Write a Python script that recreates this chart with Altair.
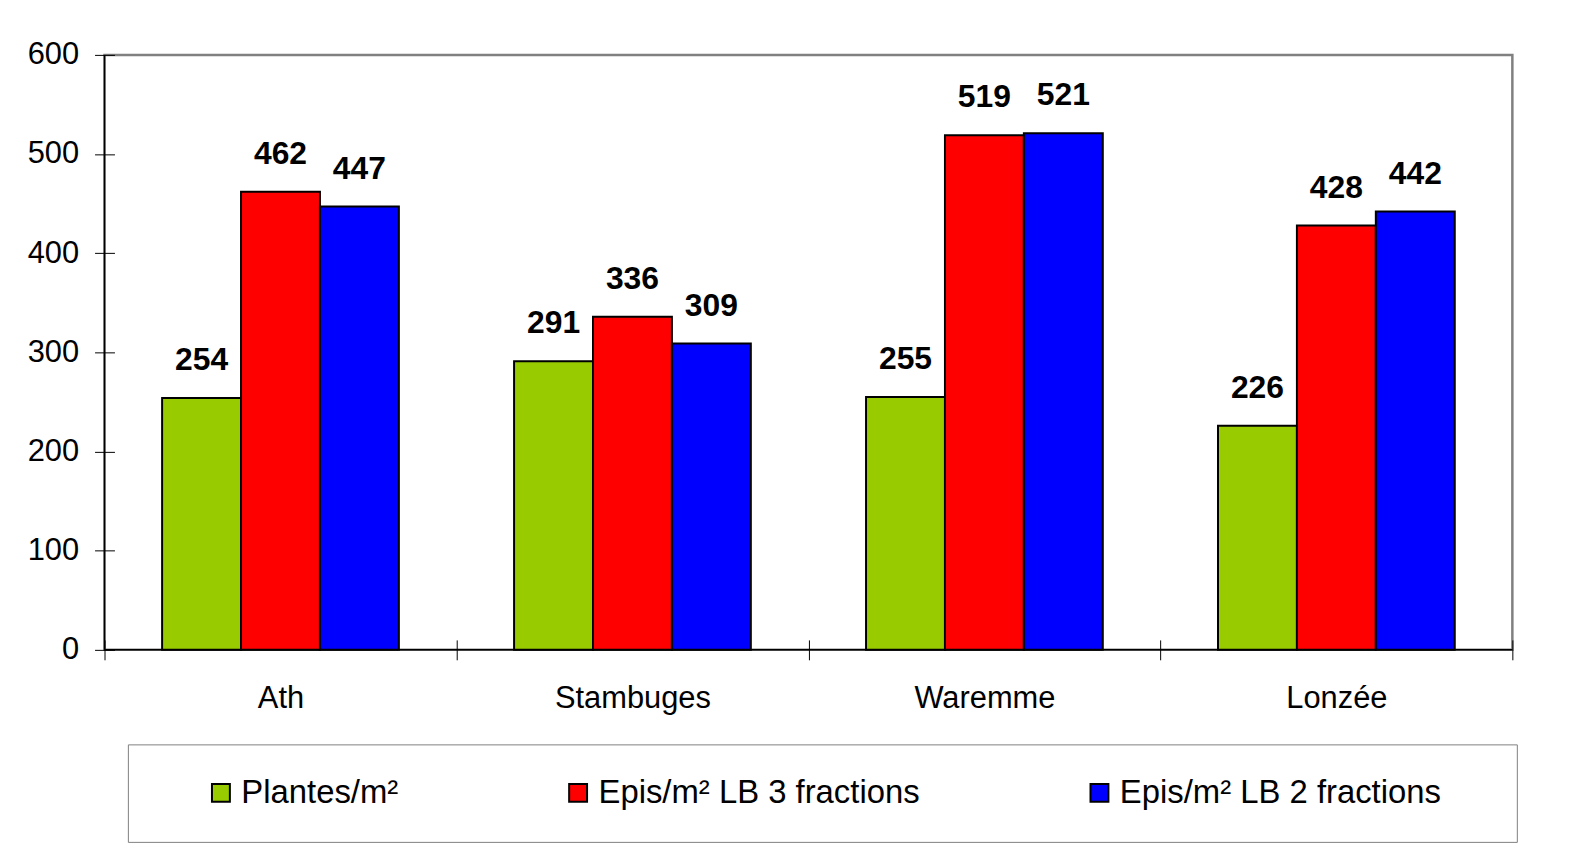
import altair as alt
import pandas as pd

# ---- data ----
sites = ["Ath", "Stambuges", "Waremme", "Lonzée"]
series_names = ["Plantes/m²", "Epis/m² LB 3 fractions", "Epis/m² LB 2 fractions"]
plantes = [254, 291, 255, 226]
epis_3_fractions = [462, 336, 519, 428]
epis_2_fractions = [447, 309, 521, 442]
series_colors = ["#99CC00", "#FF0000", "#0000FF"]
y_ticks = [0, 100, 200, 300, 400, 500, 600]

rows = []
for name, vals in zip(series_names, [plantes, epis_3_fractions, epis_2_fractions]):
    for s, v in zip(sites, vals):
        rows.append({"site": s, "serie": name, "valeur": v})
df = pd.DataFrame(rows)

FONT = "Liberation Sans"
W, H = 1415, 598

x_enc = alt.X(
    "site:N", sort=sites,
    scale=alt.Scale(paddingInner=0, paddingOuter=0),
    axis=alt.Axis(title=None, labelAngle=0, offset=-10, domain=False,
                  tickBand="extent", tickSize=20, tickColor="black", tickWidth=1,
                  labelFont=FONT, labelFontSize=31, labelColor="black",
                  labelPadding=24),
)
xo_enc = alt.XOffset("serie:N", sort=series_names,
                     scale=alt.Scale(paddingInner=0, paddingOuter=0.73))
y_enc = alt.Y(
    "valeur:Q",
    scale=alt.Scale(domain=[0, 600], nice=False),
    axis=alt.Axis(title=None, values=y_ticks, offset=-10, domain=False, grid=False,
                  tickSize=20, tickColor="black", tickWidth=1,
                  labelFont=FONT, labelFontSize=31, labelColor="black",
                  labelPadding=16),
)
color_enc = alt.Color(
    "serie:N", sort=series_names,
    scale=alt.Scale(domain=series_names, range=series_colors),
    legend=alt.Legend(
        title=" ", titleOrient="right", titlePadding=44,
        orient="none", legendX=23.5, legendY=693,
        direction="horizontal", columns=3, columnPadding=119,
        symbolType="square", symbolSize=324, symbolStrokeColor="black",
        symbolStrokeWidth=2, symbolOpacity=1, symbolOffset=45, labelOffset=4,
        labelFont=FONT, labelFontSize=33, labelColor="black", labelLimit=0,
        padding=32, strokeColor="#808080", fillColor="white",
    ),
)

bars = alt.Chart(df).mark_bar(stroke="black", strokeWidth=2, opacity=1).encode(
    x=x_enc, xOffset=xo_enc, y=y_enc, color=color_enc
)
labels = alt.Chart(df).mark_text(
    font=FONT, fontSize=32, fontWeight="bold", color="black", dy=-38, baseline="middle"
).encode(
    x=alt.X("site:N", sort=sites),
    xOffset=alt.XOffset("serie:N", sort=series_names),
    y="valeur:Q",
    text="valeur:Q",
)
base_df = pd.DataFrame({"v": [0]})
left_line = alt.Chart(base_df).mark_rule(color="black", strokeWidth=1.5).encode(x=alt.value(0))
bottom_line = alt.Chart(base_df).mark_rule(color="black", strokeWidth=1.5).encode(y=alt.datum(0))

chart = alt.layer(bars, labels, left_line, bottom_line).properties(
    width=W, height=H,
    autosize=alt.AutoSizeParams(type="none"),
    padding={"left": 97, "top": 45, "right": 71, "bottom": 192},
    background="white",
).configure_view(stroke="#808080", strokeWidth=2.5)

chart.save("out.html", embed_options={"renderer": "svg", "actions": False})
